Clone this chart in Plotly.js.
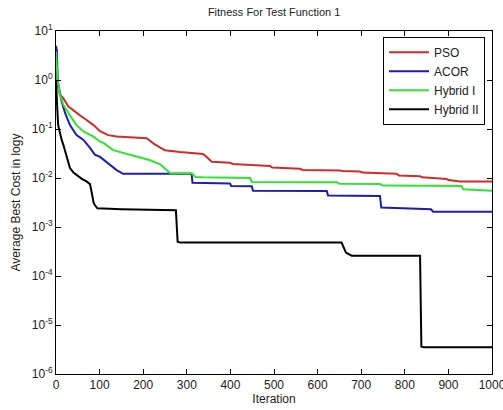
<!DOCTYPE html>
<html>
<head>
<meta charset="utf-8">
<script src="https://cdn.plot.ly/plotly-3.0.1.min.js"></script>
<style>html,body{margin:0;padding:0;background:#fff;}#chart{width:503px;height:410px;}</style>
</head>
<body>
<div id="chart"></div>
<script>
// Series names
const seriesNames = ["PSO", "ACOR", "Hybrid I", "Hybrid II"];

// PSO
const psoIter = [0, 4, 9, 17, 28, 47, 55, 63, 86, 101, 120, 139, 160, 208, 215, 223, 238, 250, 284, 337, 345, 357, 399, 405, 491, 496, 560, 565, 651, 656, 697, 702, 781, 786, 835, 840, 896, 900, 927, 1000];
const psoCost = [2.5, 0.8, 0.5, 0.42, 0.29, 0.21, 0.19, 0.17, 0.12, 0.09, 0.075, 0.07, 0.068, 0.065, 0.058, 0.051, 0.042, 0.037, 0.034, 0.031, 0.027, 0.0215, 0.0205, 0.0193, 0.0175, 0.0163, 0.0155, 0.0146, 0.0142, 0.0139, 0.0135, 0.0129, 0.0122, 0.0113, 0.0108, 0.0103, 0.0095, 0.0091, 0.0085, 0.0085];

// ACOR
const acorIter = [0, 2, 4, 9, 13, 21, 32, 47, 63, 78, 89, 101, 124, 139, 154, 311, 313, 399, 402, 449, 452, 621, 624, 743, 746, 800, 860, 865, 1000];
const acorCost = [5.0, 4.0, 0.93, 0.5, 0.36, 0.21, 0.12, 0.075, 0.06, 0.041, 0.03, 0.027, 0.0187, 0.0145, 0.0122, 0.0122, 0.0080, 0.0077, 0.0069, 0.0068, 0.0055, 0.0054, 0.0044, 0.0043, 0.0025, 0.0024, 0.0023, 0.00205, 0.00205];

// Hybrid I
const hyb1Iter = [0, 4, 9, 17, 32, 47, 63, 86, 101, 109, 131, 177, 216, 239, 257, 262, 311, 320, 337, 445, 449, 644, 650, 743, 750, 930, 934, 1000];
const hyb1Cost = [3.8, 0.9, 0.5, 0.31, 0.19, 0.12, 0.089, 0.07, 0.055, 0.052, 0.037, 0.029, 0.023, 0.019, 0.0135, 0.0125, 0.0125, 0.0105, 0.0103, 0.0100, 0.0083, 0.0082, 0.0076, 0.0075, 0.0070, 0.0069, 0.0059, 0.0055];

// Hybrid II
const hyb2Iter = [0, 1, 3, 5, 9, 13, 17, 24, 32, 40, 47, 60, 70, 78, 82, 86, 89, 95, 150, 275, 279, 285, 655, 665, 678, 835, 838, 845, 1000];
const hyb2Cost = [1.0, 0.5, 0.25, 0.12, 0.08, 0.06, 0.047, 0.028, 0.016, 0.013, 0.0115, 0.0095, 0.0085, 0.0075, 0.005, 0.0032, 0.0028, 0.0024, 0.0023, 0.0022, 0.0005, 0.00048, 0.00048, 0.0003, 0.00026, 0.00026, 0.0000036, 0.0000035, 0.0000035];

// Axis ticks
const yTickVals = [1e-6, 1e-5, 1e-4, 1e-3, 1e-2, 1e-1, 1, 10];
const yTickText = ["10<sup>-6</sup>", "10<sup>-5</sup>", "10<sup>-4</sup>", "10<sup>-3</sup>", "10<sup>-2</sup>", "10<sup>-1</sup>", "10<sup>0</sup>", "10<sup>1</sup>"];
const xTickVals = [0, 100, 200, 300, 400, 500, 600, 700, 800, 900, 1000];

// minor log tick positions (2..9 x 10^k)
const yMinorVals = [];
for (let k = -6; k < 1; k++) for (let m = 2; m <= 9; m++) yMinorVals.push(m * Math.pow(10, k));

const colors = ["#d42a2a", "#1c1cb0", "#2ee62e", "#000000"];
const xs = [psoIter, acorIter, hyb1Iter, hyb2Iter];
const ys = [psoCost, acorCost, hyb1Cost, hyb2Cost];

const traces = seriesNames.map((n, i) => ({
  x: xs[i], y: ys[i], name: n, type: "scatter", mode: "lines",
  line: {color: colors[i], width: 2}
}));

const font = {family: "Liberation Sans, Arial, sans-serif", color: "#222"};

const layout = {
  width: 503, height: 410,
  paper_bgcolor: "#fff", plot_bgcolor: "#fff",
  margin: {l: 56, r: 11, t: 31, b: 36, pad: 0},
  font: Object.assign({size: 11}, font),
  title: {text: "Fitness For Test Function 1", x: 0.545, xanchor: "center", y: 0.97, yanchor: "middle", font: Object.assign({size: 11}, font)},
  showlegend: true,
  legend: {
    x: 0.984, xanchor: "right", y: 0.983, yanchor: "top",
    bgcolor: "#fff", bordercolor: "#000", borderwidth: 1,
    font: Object.assign({size: 12}, font),
    tracegroupgap: 0, itemwidth: 40
  },
  xaxis: {
    range: [0, 1000], tickvals: xTickVals, ticks: "inside", ticklen: 5, tickcolor: "#000",
    showline: true, linecolor: "#000", linewidth: 1, mirror: "ticks", showgrid: false, zeroline: false,
    ticklabeloverflow: "allow",
    tickfont: Object.assign({size: 12}, font),
    title: {text: "Iteration", font: Object.assign({size: 12}, font), standoff: 2}
  },
  yaxis: {
    type: "log", range: [-6, 1], tickvals: yTickVals, ticktext: yTickText,
    ticks: "inside", ticklen: 5, tickcolor: "#000",
    showline: true, linecolor: "#000", linewidth: 1, mirror: "ticks", showgrid: false, zeroline: false,
    ticklabeloverflow: "allow",
    tickfont: Object.assign({size: 12}, font),
    title: {text: "Average Best Cost in logy", font: Object.assign({size: 12}, font), standoff: 8}
  },
  yaxis2: {
    type: "log", range: [-6, 1], overlaying: "y", anchor: "x", side: "left",
    tickmode: "array", tickvals: yMinorVals, showticklabels: false,
    ticks: "inside", ticklen: 3, tickcolor: "#000", mirror: "ticks",
    showline: false, showgrid: false, zeroline: false
  }
};

Plotly.newPlot("chart", traces, layout, {displayModeBar: false, staticPlot: true});
</script>
</body>
</html>
